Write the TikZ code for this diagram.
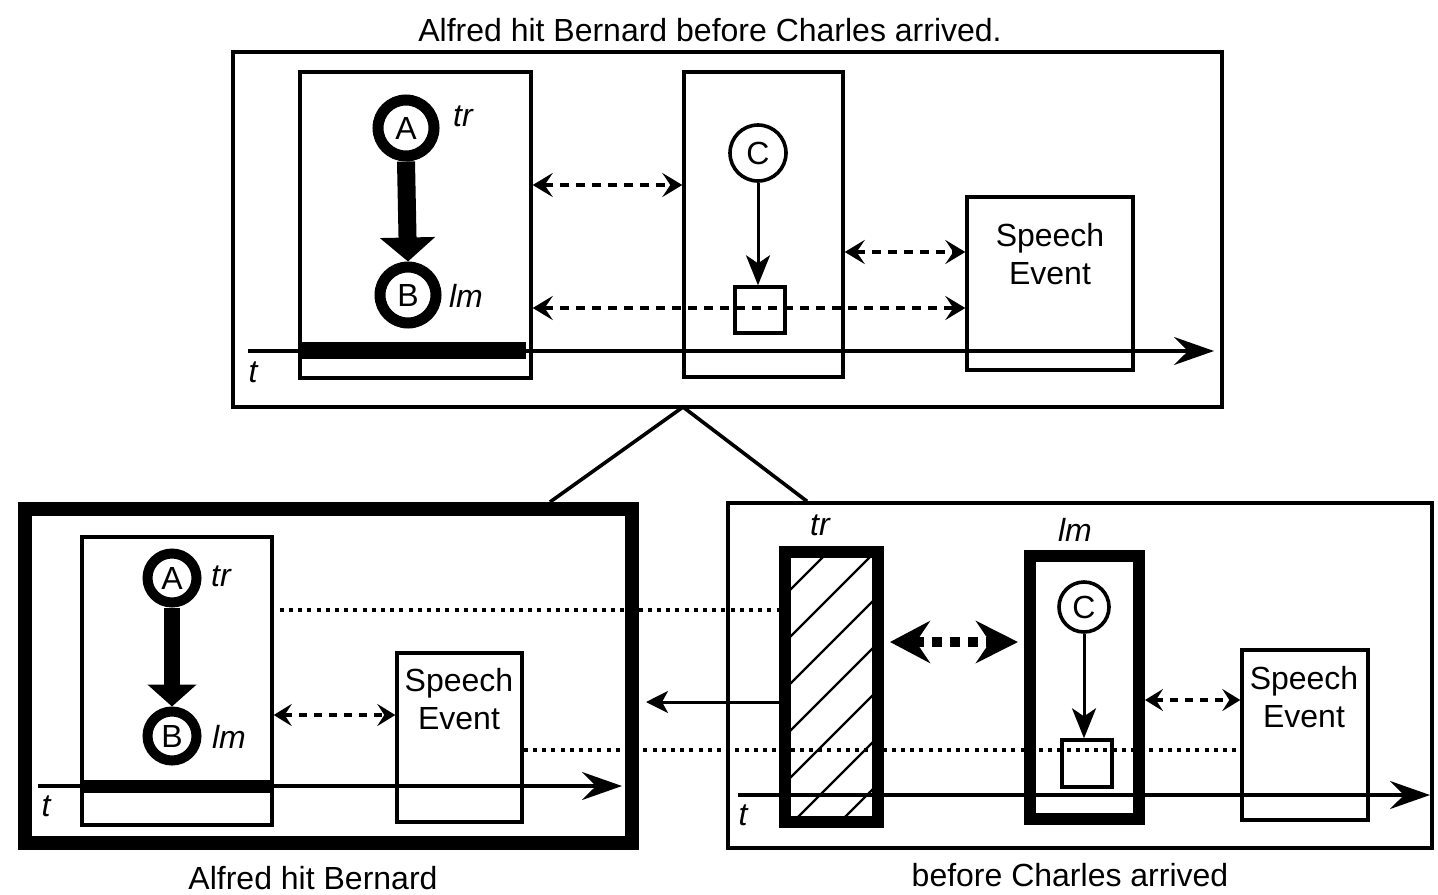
\documentclass[tikz,border=0pt]{standalone}
\usepackage{fontspec}
\setmainfont{Liberation Sans}
\usetikzlibrary{arrows.meta,fit,calc}

\begin{document}
\begin{tikzpicture}[x=0.5pt,y=-0.5pt,
  font=\fontsize{16}{19}\selectfont,
  frame/.style={draw, line width=1.7pt, inner sep=0pt},
  heavyframe/.style={draw, line width=6pt, inner sep=0pt},
  bar/.style={fill, inner sep=0pt},
  bigdot/.style={circle, draw, line width=5.5pt, minimum size=28pt, inner sep=0pt},
  smalldot/.style={circle, draw, line width=5pt, minimum size=24.5pt, inner sep=0pt},
  thindot/.style={circle, draw, line width=1.8pt, minimum size=28pt, inner sep=0pt},
  lbl/.style={font=\fontsize{16}{19}\selectfont\itshape, inner sep=0pt},
  txt/.style={align=center, inner sep=0pt},
  fatarrow/.style={line width=9pt, -{Triangle[length=12pt,width=27pt]}},
  fatarrowsmall/.style={line width=8pt, -{Triangle[length=11pt,width=24pt]}},
  thinarrow/.style={line width=1.5pt, -{Stealth[length=15pt,width=12pt,inset=4pt]}},
  dasharrow/.style={line width=2.1pt, dash pattern=on 4.5pt off 3.5pt,
    {Stealth[length=10pt,width=12pt,inset=4pt]}-{Stealth[length=10pt,width=12pt,inset=4pt]}},
  dasharrowsmall/.style={line width=1.8pt, dash pattern=on 4pt off 3.5pt,
    {Stealth[length=9pt,width=11pt,inset=3.5pt]}-{Stealth[length=9pt,width=11pt,inset=3.5pt]}},
  bolddots/.style={line width=5pt, dash pattern=on 5pt off 4pt, shorten <=3pt, shorten >=3pt,
    {Stealth[length=20pt,width=21pt,inset=7pt]}-{Stealth[length=21pt,width=21pt,inset=7pt]}},
  dotline/.style={line width=2pt, dash pattern=on 2pt off 2.6pt},
  timeline/.style={line width=1.6pt, -{Stealth[length=20pt,width=14pt,inset=7pt]}},
  hatch/.style={line width=1.2pt},
]
\useasboundingbox (0,0) rectangle (1438,894);

% ---------------- whole sentence ----------------
\node (title) at (710,30) {Alfred hit Bernard before Charles arrived.};
\node[frame, line width=2pt, fit={(233,52)(1222,407)}] (top) {};

% Alfred hit Bernard
\node[frame, fit={(300,72)(531,378)}] (ab1) {};
\node[bar, fit={(300,342)(526,359)}] (bar1) {};
\node[bigdot] (A1) at (406,128) {A};
\node[bigdot] (B1) at (408,295) {B};
\draw[fatarrow] (A1.south) -- (B1.north);
\node[lbl] (tr1) at (463,116) {tr};
\node[lbl] (lm1) at (466,296) {lm};

% Charles arrived
\node[frame, fit={(684,72)(843,377)}] (cb1) {};
\node[thindot] (C1) at (758,153) {C};
\node[frame, fit={(735,287)(785,333)}] (sq1) {};
\draw[thinarrow] (C1.south) -- (C1.south |- sq1.north);

% speech event
\node[frame, fit={(967,197)(1133,370)}] (se1) {};
\node[txt] (se1t) at (1050,254) {Speech\\Event};

\draw[dasharrow] (ab1.east |- 0,185) -- (cb1.west |- 0,185);
\draw[dasharrow] (cb1.east |- 0,252) -- (se1.west |- 0,252);
\draw[dasharrow] (ab1.east |- 0,308) -- (se1.west |- 0,308);

\coordinate (t1s) at (248,351);
\coordinate (t1e) at (1214,351);
\draw[timeline] (t1s) -- (t1e);
\node[lbl] (t1) at (253,372) {t};

% ---------------- composition lines ----------------
\coordinate (apex) at (683,407);

% ---------------- main clause ----------------
\node[heavyframe, line width=7pt, fit={(25,509)(632,843)}] (bl) {};
\node[frame, fit={(82,537)(272,825)}] (ab2) {};
\node[bar, fit={(82,780)(272,793)}] (bar2) {};
\node[smalldot] (A2) at (172,578) {A};
\node[smalldot] (B2) at (172,736) {B};
\draw[fatarrowsmall] (A2.south) -- (B2.north);
\node[lbl] (tr2) at (221,576) {tr};
\node[lbl] (lm2) at (229,737) {lm};

\node[frame, fit={(397,653)(522,822)}] (se2) {};
\node[txt] (se2t) at (459,699) {Speech\\Event};
\draw[dasharrowsmall] (ab2.east |- 0,715) -- (se2.west |- 0,715);

\coordinate (t2s) at (38,786);
\coordinate (t2e) at (622,786);
\draw[timeline] (t2s) -- (t2e);
\node[lbl] (t2) at (46,806) {t};

\node (cap2) at (313,878) {Alfred hit Bernard};

% ---------------- subordinate clause ----------------
\node[frame, fit={(728,503)(1432,848)}] (br) {};

\draw[line width=1.8pt] (bl.north -| 550,0) -- (apex) -- (br.north -| 807,0);

\node[heavyframe, fit={(785,552)(878,822)}] (trb) {};
\begin{scope}
  \clip (791,558) rectangle (872,816);
  \foreach \k in {595,642,...,925}
    \draw[hatch] (785,\k) -- ++(130,-130);
\end{scope}
\node[lbl] (tr3) at (820,525) {tr};

\node[heavyframe, fit={(1030,556)(1139,819)}] (lmb) {};
\node[lbl] (lm3) at (1075,530) {lm};
\node[thindot, minimum size=25pt] (C3) at (1084,607) {C};
\node[frame, fit={(1062,740)(1112,787)}] (sq3) {};
\draw[thinarrow] (C3.south) -- (C3.south |- sq3.north);

\node[frame, fit={(1242,650)(1368,820)}] (se3) {};
\node[txt] (se3t) at (1304,697) {Speech\\Event};

\draw[bolddots] (trb.east |- 0,642) -- (lmb.west |- 0,642);
\draw[dasharrowsmall] (lmb.east |- 0,700) -- (se3.west |- 0,700);

\coordinate (t3s) at (738,795);
\coordinate (t3e) at (1430,795);
\draw[timeline] (t3s) -- (t3e);
\node[lbl] (t3) at (743,815) {t};

\node (cap3) at (1070,875) {before Charles arrived};

% ---------------- links between the clauses ----------------
\draw[dotline, shorten <=3pt] (ab2.east |- 0,610) -- (trb.west |- 0,610);
\draw[dotline] (se2.east |- 0,750) -- (se3.west |- 0,750);
\draw[line width=1.5pt, shorten >=3.5pt, -{Stealth[length=11pt,width=11pt,inset=3pt]}]
  (trb.west |- 0,702) -- (bl.east |- 0,702);
\end{tikzpicture}
\end{document}
